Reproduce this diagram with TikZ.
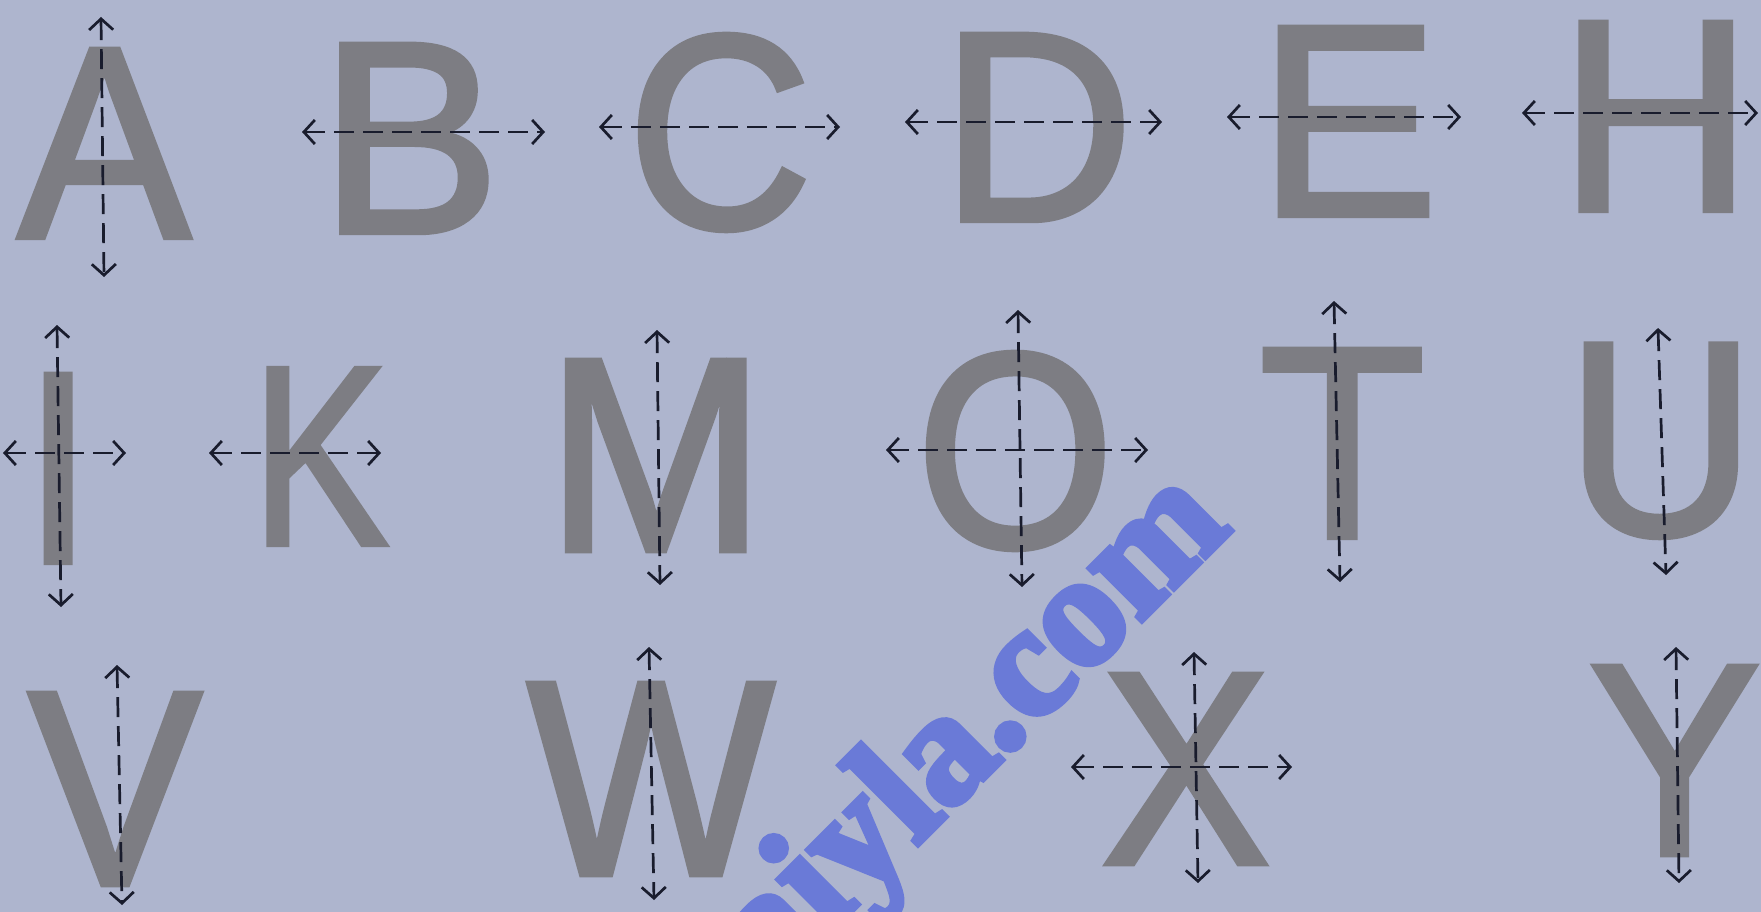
\documentclass[tikz,border=0pt]{standalone}
\usepackage{fontspec}
\setmainfont{Liberation Sans}
\newfontfamily\ltrfont[FakeBold=2]{Liberation Sans}
\newfontfamily\wmfont[BoldFeatures={FakeBold=4}]{Liberation Serif}
\usetikzlibrary{arrows.meta}
\definecolor{bg}{RGB}{174,181,206}
\definecolor{lettergray}{RGB}{125,125,131}
\definecolor{axisink}{RGB}{25,28,45}
\definecolor{wmblue}{RGB}{106,122,215}
\tikzset{
  letter/.style={inner sep=0pt,outer sep=0pt,text=lettergray,font=\ltrfont},
  axis/.style={draw=axisink,line width=2.7pt,dash pattern=on 20pt off 9pt,
    >={Straight Barb[length=11pt,width=24pt]},<->},
  wm/.style={inner sep=0pt,text=wmblue,font=\wmfont\bfseries\fontsize{160}{160}\selectfont}
}
\def\pd{2.5}
\newcommand\glyph[9]{%
  \pgfmathsetmacro\gxa{#3+\pd}%
  \pgfmathsetmacro\gxb{#5-\pd}%
  \pgfmathsetmacro\gya{#4+\pd}%
  \pgfmathsetmacro\gyb{#6-\pd}%
  \pgfmathsetmacro\gs{(\gxb-\gxa)/(#8-#7)}%
  \pgfmathsetmacro\gW{#9*\gs}%
  \pgfmathsetmacro\gL{\gxa-(#7)*\gs}%
  \pgfmathsetmacro\gH{\gyb-\gya}%
  \node[letter,anchor=south west] (#1) at (\gL,\gyb) {\resizebox*{\gW pt}{\gH pt}{#2}};%
}
\begin{document}
\begin{tikzpicture}[x=1pt,y=-1pt]
\fill[bg] (0,0) rectangle (1761,912);
\useasboundingbox (0,0) rectangle (1761,912);
\clip (0,0) rectangle (1761,912);
% letters
\glyph{LA}{A}{15}{47}{193}{240}{-3}{1369}{1366}
\glyph{LB}{B}{337}{42}{488}{235}{150}{1257}{1366}
\glyph{LC}{C}{635}{32}{804}{233}{81}{1393}{1479}
\glyph{LD}{D}{959}{32}{1122}{223}{158}{1370}{1479}
\glyph{LE}{E}{1277}{25}{1426}{218}{162}{1256}{1366}
\glyph{LH}{H}{1578}{20}{1733}{213}{164}{1314}{1479}
\glyph{LI}{I}{44}{372}{73}{565}{191}{385}{569}
\glyph{LK}{K}{264}{366}{390}{547}{150}{1362}{1366}
\glyph{LM}{M}{563}{358}{748}{553}{152}{1551}{1706}
\glyph{LO}{O}{926}{350}{1106}{552}{99}{1508}{1593}
\glyph{LT}{T}{1263}{347}{1421}{540}{48}{1202}{1251}
\glyph{LU}{U}{1584}{342}{1737}{540}{161}{1314}{1479}
\glyph{LV}{V}{27}{691}{203}{887}{9}{1358}{1366}
\glyph{LW}{W}{528}{681}{774}{877}{25}{1910}{1933}
\glyph{LX}{X}{1100}{672}{1271}{866}{9}{1357}{1366}
\glyph{LY}{Y}{1587}{664}{1762}{857}{6}{1360}{1366}
% axis end points
\coordinate (A-t) at (101,17);   \coordinate (A-b) at (104,277);
\coordinate (B-l) at (302,132);  \coordinate (B-r) at (545,132);
\coordinate (C-l) at (599,127);  \coordinate (C-r) at (840,127);
\coordinate (D-l) at (905,122);  \coordinate (D-r) at (1162,122);
\coordinate (E-l) at (1227,117); \coordinate (E-r) at (1461,117);
\coordinate (H-l) at (1522,113); \coordinate (H-r) at (1758,113);
\coordinate (I-t) at (57,325);   \coordinate (I-b) at (61,607);
\coordinate (I-l) at (3,453);    \coordinate (I-r) at (126,453);
\coordinate (K-l) at (209,453);  \coordinate (K-r) at (381,453);
\coordinate (M-t) at (657,330);  \coordinate (M-b) at (660,585);
\coordinate (O-t) at (1018,310); \coordinate (O-b) at (1022,587);
\coordinate (O-l) at (886,450);  \coordinate (O-r) at (1148,450);
\coordinate (T-t) at (1334,301); \coordinate (T-b) at (1340,582);
\coordinate (U-t) at (1658,328); \coordinate (U-b) at (1666,575);
\coordinate (V-t) at (117,665);  \coordinate (V-b) at (122,905);
\coordinate (W-t) at (649,647);  \coordinate (W-b) at (654,900);
\coordinate (X-t) at (1194,652); \coordinate (X-b) at (1198,883);
\coordinate (X-l) at (1071,767); \coordinate (X-r) at (1292,767);
\coordinate (Y-t) at (1676,647); \coordinate (Y-b) at (1679,883);
% axes
\draw[axis] (A-t) -- (A-b);
\draw[axis] (B-l) -- (B-r);
\draw[axis] (C-l) -- (C-r);
\draw[axis] (D-l) -- (D-r);
\draw[axis] (E-l) -- (E-r);
\draw[axis] (H-l) -- (H-r);
\draw[axis] (I-t) -- (I-b);
\draw[axis] (I-l) -- (I-r);
\draw[axis] (K-l) -- (K-r);
\draw[axis] (M-t) -- (M-b);
\draw[axis] (O-t) -- (O-b);
\draw[axis] (O-l) -- (O-r);
\draw[axis] (T-t) -- (T-b);
\draw[axis] (U-t) -- (U-b);
\draw[axis] (V-t) -- (V-b);
\draw[axis] (W-t) -- (W-b);
\draw[axis] (X-t) -- (X-b);
\draw[axis] (X-l) -- (X-r);
\draw[axis] (Y-t) -- (Y-b);
% watermark
\node[wm,rotate=45,anchor=base west] (wm) at (771,991) {aiyla.com};
\end{tikzpicture}
\end{document}
